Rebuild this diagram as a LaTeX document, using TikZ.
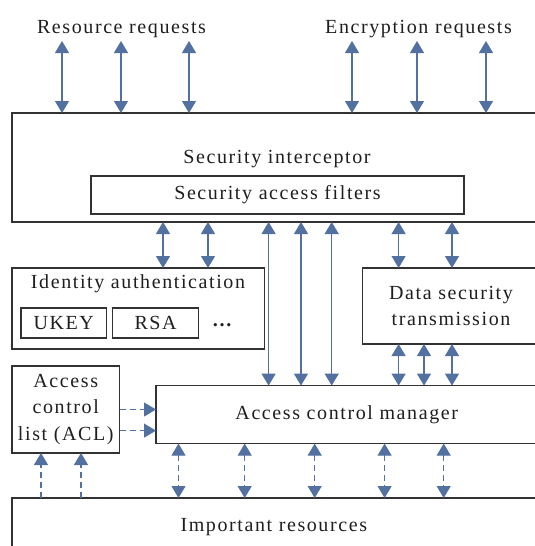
\documentclass[tikz,border=0pt]{standalone}
\usepackage{fontspec}
\setmainfont{Liberation Serif}[LetterSpace=8]
\usetikzlibrary{arrows.meta}
\definecolor{arr}{RGB}{82,112,160}
\definecolor{edge}{RGB}{50,50,50}
\definecolor{ink}{RGB}{30,30,30}
\begin{document}
\begin{tikzpicture}[x=1pt,y=-1pt, font=\fontsize{20}{26.5}\selectfont, text=ink,
  box/.style={draw=edge,line width=1.2pt,inner sep=0pt,outer sep=0pt,rectangle},
  lbl/.style={inner sep=0pt,anchor=base},
  dbl/.style={draw=arr,line width=1.1pt,{Triangle[width=14pt,length=12pt]}-{Triangle[width=14pt,length=12pt]}},
  one/.style={draw=arr,line width=1.1pt,-{Triangle[width=14pt,length=12pt]}},
  dsh/.style={dash pattern=on 6pt off 4pt}]
\useasboundingbox (0,0) rectangle (535,546);
\clip (0,0) rectangle (535,546);

% texts and boxes
\node[lbl] (rr) at (121.5,33) {Resource requests};
\node[lbl] (er) at (418.5,33) {Encryption requests};
\node[box, minimum width=530pt, minimum height=109pt] (si) at (277,167.5) {};
\node[lbl] (sit) at (277,163) {Security interceptor};
\node[box, minimum width=373pt, minimum height=38pt] (saf) at (277.5,195) {Security access filters};
\node[box, minimum width=252.5pt, minimum height=81pt] (ia) at (138.25,308.5) {};
\node[lbl] (iat) at (138,288) {Identity authentication};
\node[box, minimum width=85.5pt, minimum height=30pt] (uk) at (63.75,323) {UKEY};
\node[box, minimum width=86pt, minimum height=30pt] (rsa) at (155.6,323) {RSA};
\node[lbl] (dots) at (223,326.5) {\textbf{…}};
\node[box, minimum width=176.4pt, minimum height=76pt, align=center] (ds) at (451,306) {Data security\\transmission};
\node[box, minimum width=107.5pt, minimum height=87pt, align=center] (acl) at (65.75,409.5) {Access\\control\\list (ACL)};
\node[box, minimum width=381.5pt, minimum height=58pt] (acm) at (346.75,414.6) {Access control manager};
\node[box, minimum width=523.6pt, minimum height=58pt] (ir) at (273.8,527) {Important resources};

% top request arrows
\foreach \x/\n in {62/a,121/b,189/c,352/d,417/e,486/f}{
  \coordinate (t\n) at (\x,41);
  \draw[dbl] (t\n) -- (t\n |- si.north);
}
% interceptor <-> identity authentication
\foreach \x/\n in {163/a,208/b}{
  \coordinate (ia\n) at (\x,0);
  \draw[dbl] (ia\n |- si.south) -- (ia\n |- ia.north);
}
% interceptor <-> access control manager
\foreach \x/\n in {268.6/a,301/b,331.7/c}{
  \coordinate (sm\n) at (\x,0);
  \draw[dbl] (sm\n |- si.south) -- (sm\n |- acm.north);
}
% interceptor <-> data security
\foreach \x/\n in {398.6/a,452/b}{
  \coordinate (sd\n) at (\x,0);
  \draw[dbl] (sd\n |- si.south) -- (sd\n |- ds.north);
}
% data security <-> manager
\foreach \x/\n in {398.6/a,424/b,452/c}{
  \coordinate (dm\n) at (\x,0);
  \draw[dbl] (dm\n |- ds.south) -- (dm\n |- acm.north);
}
% ACL -> manager
\foreach \y/\n in {409.5/a,430.6/b}{
  \coordinate (am\n) at (0,\y);
  \draw[one,dsh] (am\n -| acl.east) -- (am\n -| acm.west);
}
% resources -> ACL
\foreach \x/\n in {41/a,81/b}{
  \coordinate (ra\n) at (\x,0);
  \draw[one,dsh] (ra\n |- ir.north) -- (ra\n |- acl.south);
}
% manager <-> resources
\foreach \x/\n in {178.5/a,244.7/b,314.7/c,384.6/d,443.7/e}{
  \coordinate (mr\n) at (\x,0);
  \draw[dbl,dsh] (mr\n |- acm.south) -- (mr\n |- ir.north);
}
\end{tikzpicture}
\end{document}
